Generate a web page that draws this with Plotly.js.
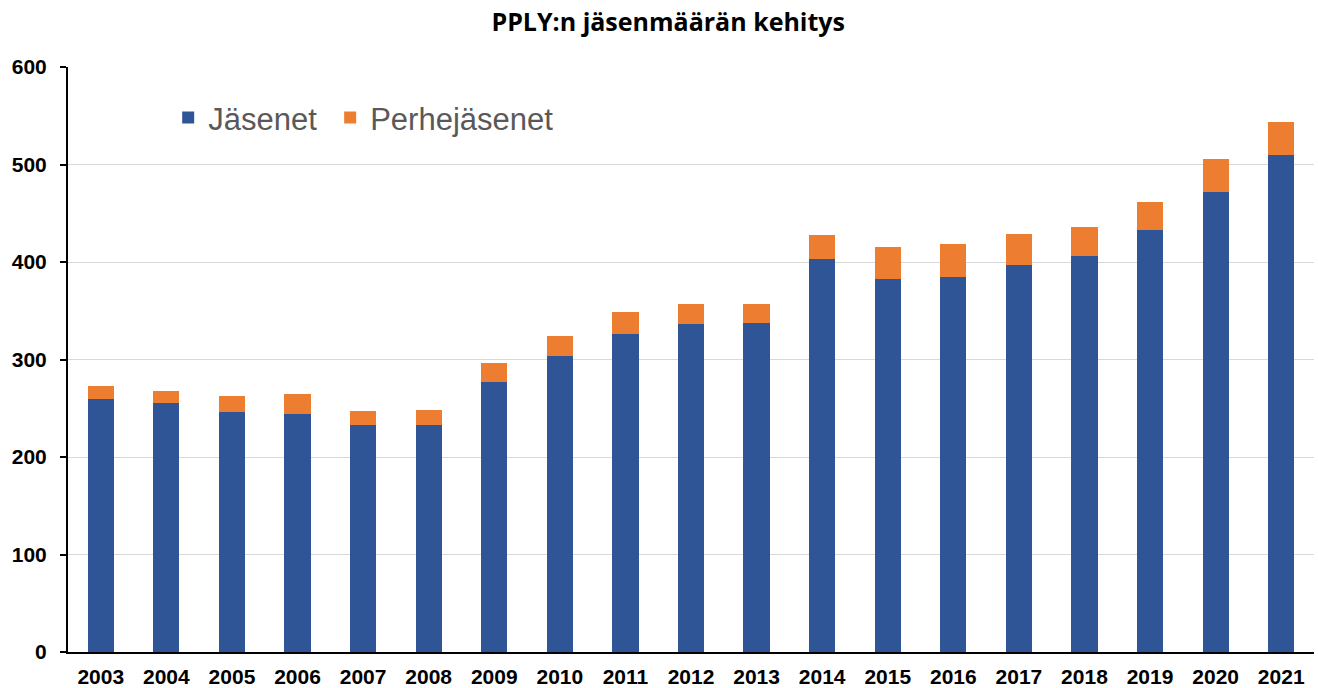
<!DOCTYPE html>
<html>
<head>
<meta charset="utf-8">
<script src="https://cdn.plot.ly/plotly-3.0.1.min.js"></script>
<style>html,body{margin:0;padding:0;background:#fff;}#chart{width:1318px;height:688px;}</style>
</head>
<body>
<div id="chart"></div>
<script>
const years = ["2003","2004","2005","2006","2007","2008","2009","2010","2011","2012","2013","2014","2015","2016","2017","2018","2019","2020","2021"];
const jasenet = [259,255,246,244,233,233,277,304,326,336,337,403,383,385,397,406,433,472,510];
const perhejasenet = [14,13,17,21,14,15,19,20,23,21,20,25,32,33,32,30,29,34,34];

const traces = [
  {type:"bar", name:"Jäsenet", x:years, y:jasenet, marker:{color:"#2F5597"}, legend:"legend"},
  {type:"bar", name:"Perhejäsenet", x:years, y:perhejasenet, marker:{color:"#ED7D31"}, legend:"legend2"}
];

const legendFont = {family:"Liberation Sans, Arial, sans-serif", size:31, color:"#595959"};

const layout = {
  width:1318, height:688,
  barmode:"stack", bargap:0.6,
  margin:{l:68, r:4, t:67, b:36},
  paper_bgcolor:"#fff", plot_bgcolor:"#fff",
  title:{text:"<b>PPLY:n jäsenmäärän kehitys</b>", x:0.507, xanchor:"center", y:0.968, yanchor:"middle",
         font:{family:"Open Sans, Noto Sans, sans-serif", size:25, color:"#000"}},
  font:{family:"Liberation Sans, Arial, sans-serif"},
  xaxis:{type:"category", showline:true, linecolor:"#000", linewidth:2, ticks:"", showgrid:false,
         ticklabelstandoff:5,
         tickfont:{family:"Liberation Sans, Arial, sans-serif", size:21, color:"#000", weight:"bold"}},
  yaxis:{range:[0,600], dtick:100, showline:true, linecolor:"#000", linewidth:2, ticks:"outside", ticklen:6, tickwidth:2, tickcolor:"#000",
         gridcolor:"#d9d9d9", gridwidth:1, zeroline:false, ticklabelstandoff:9,
         tickfont:{family:"Liberation Sans, Arial, sans-serif", size:21, color:"#000", weight:"bold"}},
  legend:{orientation:"h", x:0.0804, y:0.913, xanchor:"left", yanchor:"middle", bgcolor:"rgba(0,0,0,0)",
          font:legendFont, itemwidth:30},
  legend2:{orientation:"h", x:0.2104, y:0.913, xanchor:"left", yanchor:"middle", bgcolor:"rgba(0,0,0,0)",
          font:legendFont, itemwidth:30},
  showlegend:true
};

Plotly.newPlot("chart", traces, layout, {displayModeBar:false, staticPlot:true});
</script>
</body>
</html>
